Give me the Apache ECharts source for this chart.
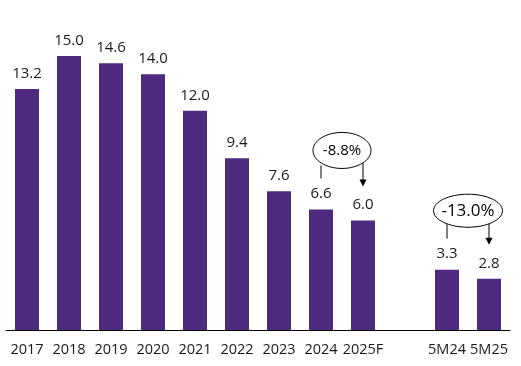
<!DOCTYPE html>
<html><head><meta charset="utf-8">
<script src="https://cdn.jsdelivr.net/npm/echarts@6/dist/echarts.min.js"></script>
<style>html,body{margin:0;padding:0;background:#fff}#c{width:521px;height:366px}</style>
</head><body><div id="c"></div>
<script>
const categories = ['2017','2018','2019','2020','2021','2022','2023','2024','2025F','','5M24','5M25'];
const values = [13.2, 15.0, 14.6, 14.0, 12.0, 9.4, 7.6, 6.6, 6.0, null, 3.3, 2.8];
const annFrom = ['2024', '5M24'];
const annTo = ['2025F', '5M25'];
const annText = ['-8.8%', '-13.0%'];
const annStyle = [{font: 15, rx: 29, ry: 18}, {font: 17, rx: 34.5, ry: 16.5}];
const FONT = '"Open Sans", "Noto Sans", sans-serif';
const chart = echarts.init(document.getElementById('c'));
chart.setOption({
  animation: false,
  grid: {left: 6, right: 11, top: 56, bottom: 36, containLabel: false},
  xAxis: {
    type: 'category', data: categories,
    axisLine: {lineStyle: {color: '#000', width: 1}},
    axisTick: {show: false},
    axisLabel: {color: '#1a1a1a', fontSize: 14.5, fontFamily: FONT, margin: 12, interval: 0}
  },
  yAxis: {type: 'value', min: 0, max: 15, show: false, splitLine: {show: false}},
  series: [{
    type: 'bar', data: values, barWidth: 24,
    itemStyle: {color: '#4e2a7f'},
    label: {show: true, position: 'top', distance: 8, color: '#1a1a1a', fontSize: 15, fontFamily: FONT,
      formatter: p => p.value == null ? '' : p.value.toFixed(1)}
  }]
});
function drawAnn() {
  const g = [];
  annText.forEach((text, k) => {
    const i1 = categories.indexOf(annFrom[k]), i2 = categories.indexOf(annTo[k]);
    const p1 = chart.convertToPixel({seriesIndex: 0}, [i1, values[i1]]);
    const p2 = chart.convertToPixel({seriesIndex: 0}, [i2, values[i2]]);
    const x1 = p1[0], x2 = p2[0];
    const s = annStyle[k];
    const cx = (x1 + x2) / 2;
    const cy = p1[1] - 59;
    const eb = cy + s.ry;
    g.push({type: 'ellipse', shape: {cx: cx, cy: cy, rx: s.rx, ry: s.ry}, style: {fill: '#fff', stroke: '#000', lineWidth: 1}, z: 10});
    g.push({type: 'text', x: cx, y: cy, style: {text: text, fill: '#000', font: s.font + 'px ' + FONT, align: 'center', verticalAlign: 'middle'}, z: 11});
    g.push({type: 'line', shape: {x1: x1, y1: eb - 3, x2: x1, y2: p1[1] - 31}, style: {stroke: '#000', lineWidth: 1}, z: 9});
    const tip = p2[1] - 34;
    g.push({type: 'line', shape: {x1: x2, y1: eb - 6, x2: x2, y2: tip - 5}, style: {stroke: '#000', lineWidth: 1}, z: 9});
    g.push({type: 'polygon', shape: {points: [[x2 - 3.5, tip - 7], [x2 + 3.5, tip - 7], [x2, tip]]}, style: {fill: '#000'}, z: 9});
  });
  chart.setOption({graphic: g});
}
drawAnn();
</script></body></html>
